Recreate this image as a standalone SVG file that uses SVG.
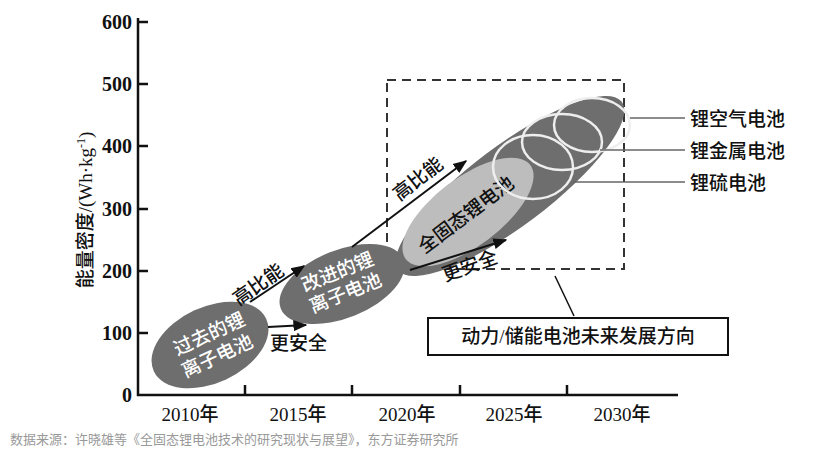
<svg xmlns="http://www.w3.org/2000/svg" width="831" height="456" viewBox="0 0 831 456">
<defs>
<marker id="ah" viewBox="0 0 10 10" refX="9" refY="5" markerWidth="7" markerHeight="7" orient="auto"><path d="M0,1 L10,5 L0,9 z" fill="#111"/></marker>
<style>
.num{font-family:"Liberation Serif",serif;font-size:20px;fill:#111;font-weight:bold}
.cjk{font-family:"Liberation Serif","Noto Sans CJK SC",serif;font-size:19px;fill:#111;font-weight:500}
.w{fill:#fff}
.ax{stroke:#111;stroke-width:2.5;fill:none}
.arr{stroke:#111;stroke-width:2;marker-end:url(#ah)}
.ring{fill:none;stroke:#eee;stroke-width:2.5}
.lead{stroke:#666;stroke-width:1.5}
</style>
</defs>
<rect width="831" height="456" fill="#fff"/>
<g id="axes">
<path class="ax" d="M138,18 V395 H678"/>
<path class="ax" d="M138,22 h10 M138,84 h10 M138,146 h10 M138,209 h10 M138,271 h10 M138,333 h10 M245,395 v-10 M352,395 v-10 M460,395 v-10 M567,395 v-10"/>
<g class="num" text-anchor="end">
<text x="132" y="29">600</text><text x="132" y="91">500</text><text x="132" y="153">400</text><text x="132" y="216">300</text><text x="132" y="278">200</text><text x="132" y="340">100</text><text x="132" y="402">0</text>
</g>
<g class="cjk" text-anchor="middle" font-size="20">
<text x="190" y="421">2010年</text><text x="298" y="421">2015年</text><text x="407" y="421">2020年</text><text x="514" y="421">2025年</text><text x="622" y="421">2030年</text>
</g>
<text class="cjk" transform="translate(92,210) rotate(-90)" text-anchor="middle" font-size="20">能量密度/(Wh·kg<tspan font-size="12" dy="-7">-1</tspan><tspan dy="7">)</tspan></text>
</g>
<g id="future-box">
<rect x="387" y="80" width="237" height="189" fill="none" stroke="#333" stroke-width="2" stroke-dasharray="9,6"/>
</g>
<g id="past">
<ellipse cx="210" cy="345" rx="62" ry="38" transform="rotate(-25 210 345)" fill="#6e6e6e"/>
<text class="cjk w" transform="translate(212,340) rotate(-25)" text-anchor="middle">过去的锂</text>
<text class="cjk w" transform="translate(220,362) rotate(-25)" text-anchor="middle">离子电池</text>
</g>
<g id="improved">
<ellipse cx="342" cy="284" rx="66" ry="34" transform="rotate(-22 342 284)" fill="#6e6e6e"/>
<text class="cjk w" transform="translate(340,278) rotate(-22)" text-anchor="middle">改进的锂</text>
<text class="cjk w" transform="translate(348,299) rotate(-22)" text-anchor="middle">离子电池</text>
</g>
<g id="future">
<ellipse cx="510" cy="186" rx="140" ry="40" transform="rotate(-37 510 186)" fill="#6e6e6e"/>
<ellipse cx="468" cy="212" rx="78" ry="34" transform="rotate(-37 468 212)" fill="#bdbdbd"/>
<text class="cjk" transform="translate(470,220) rotate(-37)" text-anchor="middle" font-size="20">全固态锂电池</text>
</g>
<g id="li-s"><ellipse class="ring" cx="533" cy="167" rx="40" ry="32"/><text class="cjk" x="690" y="190">锂硫电池</text></g>
<g id="li-metal"><ellipse class="ring" cx="562" cy="142" rx="40" ry="28"/><text class="cjk" x="690" y="158">锂金属电池</text></g>
<g id="li-air"><ellipse class="ring" cx="592" cy="125" rx="38" ry="27"/><text class="cjk" x="690" y="126">锂空气电池</text></g>
<g id="connectors">
<line class="lead" x1="630" y1="118" x2="685" y2="118"/>
<line class="lead" x1="600" y1="150" x2="685" y2="150"/>
<line class="lead" x1="573" y1="182" x2="685" y2="182"/>
<line x1="555" y1="276" x2="574" y2="316" stroke="#111" stroke-width="1.5"/>
<line class="arr" x1="250" y1="302" x2="304" y2="266"/>
<line class="arr" x1="352" y1="247" x2="466" y2="161"/>
<line class="arr" x1="268" y1="327" x2="306" y2="325"/>
<line class="arr" x1="410" y1="270" x2="506" y2="240"/>
</g>
<g id="labels">
<text class="cjk" transform="translate(262,290) rotate(-35)" text-anchor="middle">高比能</text>
<text class="cjk" x="270" y="350">更安全</text>
<text class="cjk" transform="translate(422,184) rotate(-38)" text-anchor="middle">高比能</text>
<text class="cjk" transform="translate(472,272) rotate(-20)" text-anchor="middle">更安全</text>
</g>
<g id="callout">
<rect x="428" y="318" width="300" height="37" fill="#fff" stroke="#111" stroke-width="2"/>
<text class="cjk" x="578" y="343" text-anchor="middle">动力/储能电池未来发展方向</text>
</g>
<text x="10" y="444" font-family="Noto Sans CJK SC,sans-serif" font-size="13" fill="#999">数据来源：许晓雄等《全固态锂电池技术的研究现状与展望》，东方证券研究所</text>
</svg>
